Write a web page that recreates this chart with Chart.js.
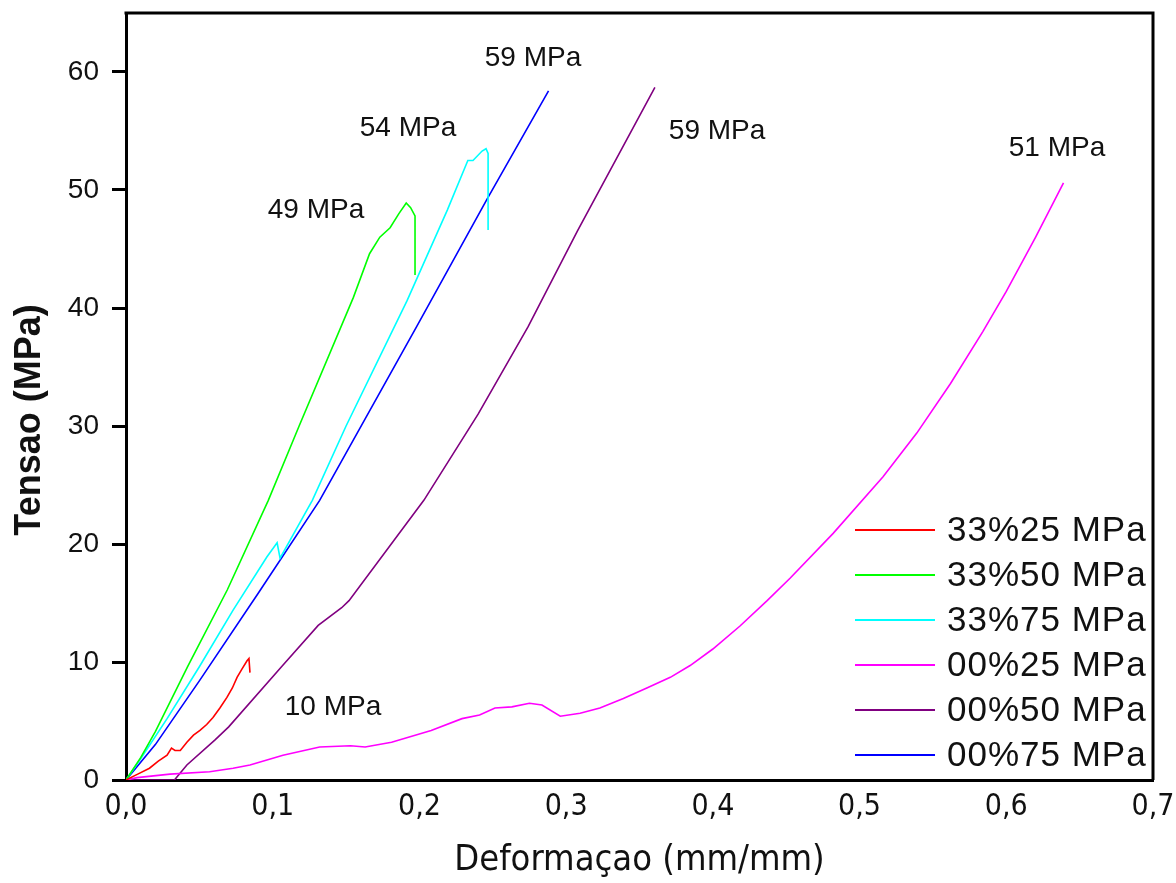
<!DOCTYPE html>
<html>
<head>
<meta charset="utf-8">
<style>
  html, body { margin: 0; padding: 0; background: #ffffff; }
  #wrap { width: 1176px; height: 883px; }
</style>
<script src="https://cdn.jsdelivr.net/npm/chart.js@4.4.1/dist/chart.umd.min.js"></script>
</head>
<body>
<div id="wrap"><canvas id="c" width="1176" height="883"></canvas></div>
<script>
// Stress-strain curves (Deformaçao in mm/mm, Tensao in MPa)
const seriesNames = ['33%25 MPa', '33%50 MPa', '33%75 MPa', '00%25 MPa', '00%50 MPa', '00%75 MPa'];
const seriesColors = ['#ff0000', '#00ff00', '#00ffff', '#ff00ff', '#800080', '#0000ff'];

const strain33_25 = [0, 0.008, 0.016, 0.022, 0.028, 0.031, 0.0334, 0.037, 0.0415, 0.046, 0.0504, 0.055, 0.0593, 0.064, 0.0688, 0.0725, 0.0757, 0.079, 0.0825, 0.0838, 0.0845];
const stress33_25 = [0, 0.5, 1.0, 1.6, 2.1, 2.7, 2.5, 2.5, 3.2, 3.8, 4.2, 4.7, 5.3, 6.1, 7.0, 7.8, 8.7, 9.4, 10.1, 10.3, 9.1];

const strain33_50 = [0, 0.01, 0.02, 0.042, 0.069, 0.097, 0.118, 0.155, 0.166, 0.173, 0.18, 0.186, 0.191, 0.194, 0.197, 0.197];
const stress33_50 = [0, 1.9, 4.1, 9.6, 16.1, 23.7, 30.0, 40.9, 44.6, 46.0, 46.8, 48.0, 48.9, 48.5, 47.8, 42.8];

const strain33_75 = [0, 0.01, 0.028, 0.05, 0.073, 0.096, 0.103, 0.105, 0.127, 0.15, 0.1915, 0.219, 0.233, 0.2365, 0.2427, 0.2454, 0.2468, 0.2468];
const stress33_75 = [0, 1.8, 5.2, 9.6, 14.4, 18.9, 20.1, 18.8, 23.7, 30.0, 40.6, 48.3, 52.5, 52.5, 53.3, 53.5, 53.1, 46.6];

const strain00_25 = [0, 0.0075, 0.030, 0.057, 0.073, 0.0845, 0.107, 0.132, 0.153, 0.163, 0.181, 0.208, 0.229, 0.241, 0.2515, 0.263, 0.275, 0.2835, 0.296, 0.3095, 0.323, 0.339, 0.355, 0.371, 0.3845, 0.400, 0.4185, 0.437, 0.4526, 0.482, 0.516, 0.539, 0.562, 0.584, 0.600, 0.620, 0.639];
const stress00_25 = [0, 0.2, 0.5, 0.7, 1.0, 1.27, 2.1, 2.8, 2.9, 2.8, 3.2, 4.2, 5.2, 5.5, 6.1, 6.2, 6.5, 6.35, 5.4, 5.65, 6.1, 6.9, 7.8, 8.7, 9.7, 11.1, 13.05, 15.2, 17.1, 20.9, 25.7, 29.4, 33.6, 38.0, 41.4, 46.0, 50.6];

const strain00_50 = [0, 0.033, 0.0415, 0.0607, 0.070, 0.106, 0.131, 0.147, 0.152, 0.203, 0.24, 0.274, 0.308, 0.3605];
const stress00_50 = [0, 0, 1.27, 3.4, 4.5, 9.6, 13.1, 14.6, 15.2, 23.7, 31.0, 38.4, 46.6, 58.7];

const strain00_75 = [0, 0.02, 0.05, 0.09, 0.132, 0.198, 0.246, 0.288];
const stress00_75 = [0, 3.0, 8.4, 15.8, 23.7, 38.4, 49.2, 58.4];

// Peak stress notes
const noteStrain = [0.2774, 0.1922, 0.1295, 0.4029, 0.6346, 0.1411];
const noteStress = [61.2, 55.2, 48.3, 55.0, 53.5, 6.2];
const noteText = ['59 MPa', '54 MPa', '49 MPa', '59 MPa', '51 MPa', '10 MPa'];

// Axis ticks and titles
const xTickValues = [0, 0.1, 0.2, 0.3, 0.4, 0.5, 0.6, 0.7];
const xTickLabels = ['0,0', '0,1', '0,2', '0,3', '0,4', '0,5', '0,6', '0,7'];
const yTickValues = [0, 10, 20, 30, 40, 50, 60];
const yTickLabels = ['0', '10', '20', '30', '40', '50', '60'];
const xTitle = 'Deformaçao (mm/mm)';
const yTitle = 'Tensao (MPa)';

const strains = [strain33_25, strain33_50, strain33_75, strain00_25, strain00_50, strain00_75];
const stresses = [stress33_25, stress33_50, stress33_75, stress00_25, stress00_50, stress00_75];

const datasets = seriesNames.map((name, i) => ({
  label: name,
  data: strains[i].map((x, k) => ({ x: x, y: stresses[i][k] })),
  borderColor: seriesColors[i],
  backgroundColor: seriesColors[i],
  borderWidth: 1.6,
  pointRadius: 0,
  tension: 0,
  fill: false
}));

const SANS = "'Liberation Sans', Arial, sans-serif";
const NARROW = "'Liberation Sans Narrow', 'DejaVu Sans Condensed', 'Liberation Sans', sans-serif";

// Top and right edges of the plot box
const framePlugin = {
  id: 'frame',
  afterDraw(chart) {
    const { ctx, chartArea: a } = chart;
    ctx.save();
    ctx.strokeStyle = '#000';
    ctx.lineWidth = 3;
    ctx.beginPath();
    ctx.moveTo(a.left - 1.5, a.top);
    ctx.lineTo(a.right, a.top);
    ctx.lineTo(a.right, a.bottom);
    ctx.stroke();
    ctx.restore();
  }
};

// Axis titles
const titlesPlugin = {
  id: 'axisTitles',
  afterDraw(chart) {
    const { ctx, chartArea: a } = chart;
    ctx.save();
    ctx.fillStyle = '#111';
    ctx.textAlign = 'center';
    ctx.textBaseline = 'middle';
    ctx.font = '36px ' + NARROW;
    ctx.fillText(xTitle, (a.left + a.right) / 2, 861);
    ctx.translate(30, 420);
    ctx.rotate(-Math.PI / 2);
    ctx.font = 'bold 36px ' + SANS;
    ctx.fillText(yTitle, 0, 0);
    ctx.restore();
  }
};

// Text notes placed at data coordinates
const notesPlugin = {
  id: 'notes',
  afterDatasetsDraw(chart) {
    const { ctx, scales } = chart;
    ctx.save();
    ctx.fillStyle = '#111';
    ctx.font = '28px ' + SANS;
    ctx.textAlign = 'center';
    ctx.textBaseline = 'middle';
    noteText.forEach((t, i) => {
      ctx.fillText(t, scales.x.getPixelForValue(noteStrain[i]), scales.y.getPixelForValue(noteStress[i]));
    });
    ctx.restore();
  }
};

// Legend inside the lower-right corner of the plot
const legendPlugin = {
  id: 'cornerLegend',
  afterDatasetsDraw(chart) {
    const { ctx, chartArea: a } = chart;
    const lineX0 = a.right - 298, lineX1 = a.right - 218, textX = a.right - 206;
    const rowY0 = a.bottom - 250, rowStep = 45;
    ctx.save();
    ctx.font = '35px ' + SANS;
    if ('letterSpacing' in ctx) ctx.letterSpacing = '1px';
    ctx.textBaseline = 'middle';
    ctx.textAlign = 'left';
    chart.data.datasets.forEach((ds, i) => {
      const y = rowY0 + i * rowStep;
      ctx.strokeStyle = ds.borderColor;
      ctx.lineWidth = 2;
      ctx.beginPath();
      ctx.moveTo(lineX0, y);
      ctx.lineTo(lineX1, y);
      ctx.stroke();
      ctx.fillStyle = '#111';
      ctx.fillText(ds.label, textX, y + 1);
    });
    ctx.restore();
  }
};

new Chart(document.getElementById('c'), {
  type: 'line',
  data: { datasets: datasets },
  plugins: [framePlugin, notesPlugin, legendPlugin, titlesPlugin],
  options: {
    responsive: false,
    devicePixelRatio: 1,
    animation: false,
    layout: { padding: { top: 13, right: 23, left: 0, bottom: 0 } },
    plugins: { legend: { display: false }, tooltip: { enabled: false } },
    scales: {
      x: {
        type: 'linear',
        min: 0,
        max: 0.7,
        afterBuildTicks(scale) { scale.ticks = xTickValues.map(v => ({ value: v })); },
        afterFit(scale) {
          scale.height = 103;
          scale.paddingLeft = 0;
          scale.paddingRight = 0;
        },
        grid: { display: false, drawTicks: false },
        border: { display: true, color: '#000', width: 3 },
        ticks: {
          color: '#111',
          padding: 9,
          maxRotation: 0,
          autoSkip: false,
          font: { family: NARROW, size: 30 },
          callback(value, index) { return xTickLabels[index]; }
        }
      },
      y: {
        type: 'linear',
        min: 0,
        max: 65,
        afterBuildTicks(scale) { scale.ticks = yTickValues.map(v => ({ value: v })); },
        afterFit(scale) {
          scale.width = 126;
          scale.paddingTop = 0;
          scale.paddingBottom = 0;
        },
        grid: { display: true, drawOnChartArea: false, drawTicks: true, tickLength: 14, tickWidth: 3, tickColor: '#000', color: '#000', lineWidth: 3 },
        border: { display: true, color: '#000', width: 3 },
        ticks: {
          color: '#111',
          padding: 13,
          autoSkip: false,
          font: { family: SANS, size: 28 },
          callback(value, index) { return yTickLabels[index]; }
        }
      }
    }
  }
});
</script>
</body>
</html>
